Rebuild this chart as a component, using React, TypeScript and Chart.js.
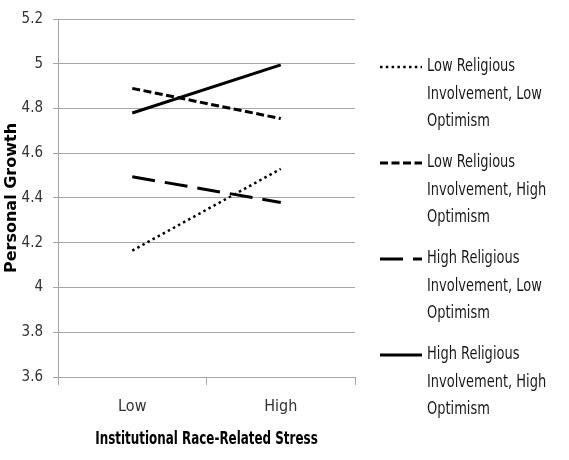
import { useEffect, useRef } from "react";
import { Chart, registerables } from "chart.js";

Chart.register(...registerables);

// Levels of institutional race-related stress
const categories = ["Low", "High"];

// Personal growth means per moderator combination
const lowRelLowOpt = [4.165, 4.53];
const lowRelHighOpt = [4.89, 4.755];
const highRelLowOpt = [4.495, 4.38];
const highRelHighOpt = [4.78, 4.995];

// Legend text, one entry per line
const labelLowRelLowOpt = ["Low Religious", "Involvement, Low", "Optimism"];
const labelLowRelHighOpt = ["Low Religious", "Involvement, High", "Optimism"];
const labelHighRelLowOpt = ["High Religious", "Involvement, Low", "Optimism"];
const labelHighRelHighOpt = ["High Religious", "Involvement, High", "Optimism"];

const yMin = 3.6;
const yMax = 5.2;
const yStep = 0.2;

const xTitle = "Institutional Race-Related Stress";
const yTitle = "Personal Growth";

const NARROW = "'Liberation Sans Narrow', 'DejaVu Sans Condensed', 'Liberation Sans', sans-serif";
const GRID = "#a6a6a6";

// Draws the wrapped legend to the right of the plot and the x-axis title,
// both with condensed lettering
const sideLegend = {
  id: "sideLegend",
  afterDraw(chart: any) {
    const { ctx, chartArea } = chart;
    const x0 = chartArea.right + 25;
    const x1 = x0 + 42;
    const tx = x1 + 5;
    const firstY = chartArea.top + 48;
    const groupGap = 96;
    const lineGap = 27.5;
    const squeeze = 0.85;
    ctx.save();
    chart.data.datasets.forEach((ds: any, i: number) => {
      const y = firstY + i * groupGap;
      ctx.beginPath();
      ctx.setLineDash(ds.borderDash || []);
      ctx.lineDashOffset = 0;
      ctx.lineWidth = ds.borderWidth;
      ctx.strokeStyle = ds.borderColor;
      ctx.lineCap = "butt";
      ctx.moveTo(x0, y);
      ctx.lineTo(x1, y);
      ctx.stroke();
      ctx.setLineDash([]);
      ctx.fillStyle = "#1a1a1a";
      ctx.font = `17px ${NARROW}`;
      ctx.textBaseline = "middle";
      ctx.textAlign = "left";
      (ds.legendLines as string[]).forEach((t, k) => {
        ctx.save();
        ctx.translate(tx, y + k * lineGap);
        ctx.scale(squeeze, 1);
        ctx.fillText(t, 0, 0);
        ctx.restore();
      });
    });

    // x-axis title
    const cx = (chartArea.left + chartArea.right) / 2;
    ctx.save();
    ctx.translate(cx, 440);
    ctx.scale(0.78, 1);
    ctx.font = `bold 17px ${NARROW}`;
    ctx.fillStyle = "#000";
    ctx.textAlign = "center";
    ctx.textBaseline = "middle";
    ctx.fillText(xTitle, 0, 0);
    ctx.restore();
    ctx.restore();
  },
};

export default function App() {
  const ref = useRef<HTMLCanvasElement | null>(null);

  useEffect(() => {
    if (!ref.current) return;
    const mk = (data: number[], lines: string[], dash: number[], width: number) => ({
      label: lines.join(" "),
      legendLines: lines,
      data,
      borderColor: "#000",
      backgroundColor: "#000",
      borderWidth: width,
      borderDash: dash,
      borderCapStyle: "butt",
      pointRadius: 0,
      pointHoverRadius: 0,
      fill: false,
      tension: 0,
    });

    const chart = new Chart(ref.current, {
      type: "line",
      data: {
        labels: categories,
        datasets: [
          mk(lowRelLowOpt, labelLowRelLowOpt, [2.5, 3.3], 2.5),
          mk(lowRelHighOpt, labelLowRelHighOpt, [8, 3.5], 3),
          mk(highRelLowOpt, labelHighRelLowOpt, [23, 10], 3),
          mk(highRelHighOpt, labelHighRelHighOpt, [], 3),
        ] as any,
      },
      options: {
        responsive: false,
        animation: false,
        layout: { padding: { top: 17, right: 214, bottom: 0, left: 0 } },
        plugins: {
          legend: { display: false },
          tooltip: { enabled: false },
        },
        scales: {
          x: {
            offset: true,
            ticks: {
              color: "#333",
              font: { family: NARROW, size: 16 },
              padding: 12,
            },
            grid: {
              display: true,
              drawOnChartArea: false,
              drawTicks: true,
              tickLength: 8,
              color: GRID,
              offset: true,
            },
            border: { color: GRID },
            title: { display: false, text: xTitle },
            afterFit: (s: any) => {
              s.height = 83;
            },
          },
          y: {
            min: yMin,
            max: yMax,
            ticks: {
              stepSize: yStep,
              color: "#333",
              font: { family: NARROW, size: 15 },
              padding: 10,
              callback: (v: any) => String(Number(Number(v).toFixed(1))),
            },
            grid: {
              color: GRID,
              lineWidth: 1,
              drawTicks: true,
              tickLength: 5,
            },
            border: { color: GRID },
            title: {
              display: true,
              text: yTitle,
              color: "#000",
              font: { family: "'DejaVu Sans', sans-serif", size: 16, weight: "bold" },
              padding: { top: 2, bottom: 0 },
            },
            afterFit: (s: any) => {
              s.width = 58;
            },
          },
        },
      } as any,
      plugins: [sideLegend],
    });
    return () => chart.destroy();
  }, []);

  return (
    <div style={{ position: "fixed", left: 0, top: 0, width: 569, height: 460, background: "#fff" }}>
      <canvas ref={ref} width={569} height={460} style={{ display: "block" }} />
    </div>
  );
}
